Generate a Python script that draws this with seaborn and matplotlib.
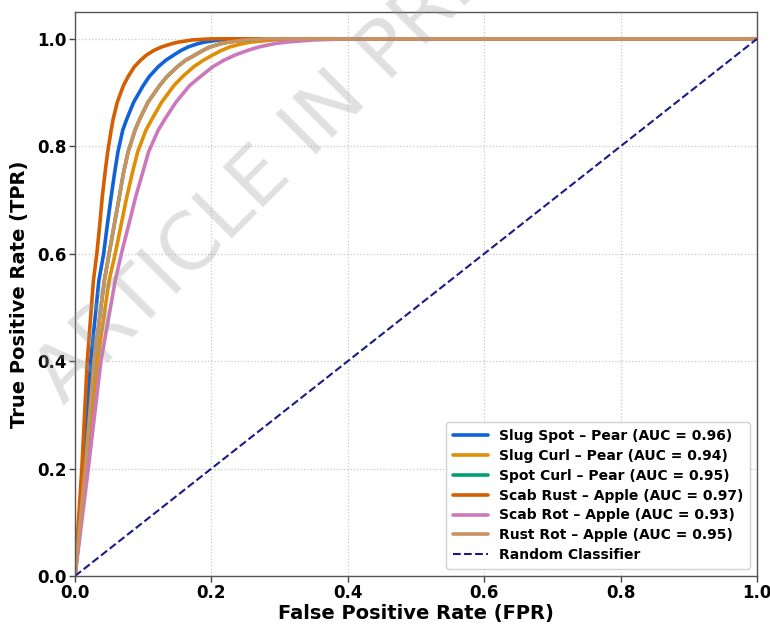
import matplotlib
matplotlib.use("Agg")
import matplotlib.pyplot as plt
import seaborn as sns
import pandas as pd

# ---- data ----
labels = [
    "Slug Spot – Pear (AUC = 0.96)",
    "Slug Curl – Pear (AUC = 0.94)",
    "Spot Curl – Pear (AUC = 0.95)",
    "Scab Rust – Apple (AUC = 0.97)",
    "Scab Rot – Apple (AUC = 0.93)",
    "Rust Rot – Apple (AUC = 0.95)",
]

tpr_levels = [0, 0.20, 0.40, 0.55, 0.60, 0.65, 0.706, 0.75, 0.79, 0.83, 0.851, 0.882,
              0.913, 0.93, 0.948, 0.96, 0.970, 0.978, 0.985, 0.991, 0.994, 0.998, 1.0, 1.0]

slug_spot_fpr = [0, 0.012, 0.023, 0.035, 0.042, 0.047, 0.053, 0.058, 0.063, 0.070, 0.076, 0.086,
                 0.100, 0.109, 0.122, 0.133, 0.145, 0.155, 0.166, 0.180, 0.190, 0.212, 0.24, 1.0]
slug_curl_fpr = [0, 0.017, 0.033, 0.050, 0.059, 0.067, 0.076, 0.084, 0.092, 0.104, 0.113, 0.127,
                 0.145, 0.158, 0.174, 0.188, 0.202, 0.214, 0.227, 0.245, 0.258, 0.29, 0.33, 1.0]
spot_curl_fpr = [0, 0.015, 0.028, 0.043, 0.050, 0.057, 0.065, 0.071, 0.078, 0.088, 0.095, 0.107,
                 0.124, 0.135, 0.150, 0.162, 0.176, 0.187, 0.198, 0.214, 0.225, 0.25, 0.28, 1.0]
scab_rust_fpr = [0, 0.010, 0.018, 0.027, 0.032, 0.036, 0.040, 0.044, 0.048, 0.053, 0.056, 0.062,
                 0.071, 0.078, 0.087, 0.096, 0.105, 0.115, 0.127, 0.142, 0.152, 0.172, 0.20, 1.0]
scab_rot_fpr = [0, 0.0195, 0.038, 0.059, 0.068, 0.078, 0.089, 0.099, 0.108, 0.122, 0.132, 0.148,
                0.168, 0.184, 0.202, 0.218, 0.235, 0.252, 0.270, 0.292, 0.31, 0.35, 0.40, 1.0]
rust_rot_fpr = [0, 0.015, 0.028, 0.043, 0.050, 0.057, 0.065, 0.071, 0.078, 0.088, 0.095, 0.107,
                0.124, 0.135, 0.150, 0.162, 0.176, 0.187, 0.198, 0.214, 0.225, 0.25, 0.28, 1.0]

random_fpr = [0, 1]
random_tpr = [0, 1]

colors = ["#0f62d9", "#de8f05", "#029e73", "#d55e00", "#cc78bc", "#ca9161"]

series = [slug_spot_fpr, slug_curl_fpr, spot_curl_fpr, scab_rust_fpr, scab_rot_fpr, rust_rot_fpr]

# ---- figure ----
sns.set_style("white")
plt.rcParams["font.family"] = ["DejaVu Sans"]
plt.rcParams["text.color"] = "black"
plt.rcParams["axes.labelcolor"] = "black"
plt.rcParams["xtick.color"] = "black"
plt.rcParams["ytick.color"] = "black"

fig = plt.figure(figsize=(7.7, 6.26), dpi=100)
ax = fig.add_axes([75 / 770, 1 - 576 / 626, (757 - 75) / 770, (576 - 12) / 626])

for fx, lab, col in zip(series, labels, colors):
    df = pd.DataFrame({"fpr": fx, "tpr": tpr_levels})
    sns.lineplot(data=df, x="fpr", y="tpr", ax=ax, color=col, lw=2.6,
                 label=lab, estimator=None, sort=False)

df_r = pd.DataFrame({"fpr": random_fpr, "tpr": random_tpr})
sns.lineplot(data=df_r, x="fpr", y="tpr", ax=ax, color="#1a1a8a", lw=1.5,
             linestyle="--", label="Random Classifier", estimator=None)

ax.set_xlim(0.0, 1.0)
ax.set_ylim(0.0, 1.05)
ticks = [0.0, 0.2, 0.4, 0.6, 0.8, 1.0]
ax.set_xticks(ticks)
ax.set_yticks(ticks)
ax.set_xticklabels([f"{v:.1f}" for v in ticks], fontweight="bold", fontsize=12)
ax.set_yticklabels([f"{v:.1f}" for v in ticks], fontweight="bold", fontsize=12)
ax.tick_params(axis="both", direction="out", length=4, width=1, color="#444444",
               bottom=True, left=True, pad=2)
ax.set_xlabel("False Positive Rate (FPR)", fontsize=14, fontweight="bold", labelpad=1)
ax.set_ylabel("True Positive Rate (TPR)", fontsize=14, fontweight="bold", labelpad=6)

ax.grid(True, linestyle=":", color="#bbbbbb", linewidth=0.9, alpha=0.8)
for s in ax.spines.values():
    s.set_color("#555555")
    s.set_linewidth(1.0)

leg = ax.legend(loc="lower right", prop={"weight": "bold", "size": 10},
                frameon=True, fancybox=True, framealpha=0.9, edgecolor="#cccccc",
                handlelength=2.5, borderpad=0.5, labelspacing=0.42)

# watermark
fig.text(300 / 770, 1 - 140 / 626, "ARTICLE IN PRESS", fontsize=57, color="#999999",
         alpha=0.3, rotation=45, ha="center", va="center", rotation_mode="anchor",
         zorder=10)

fig.savefig("out.png", dpi=100)
